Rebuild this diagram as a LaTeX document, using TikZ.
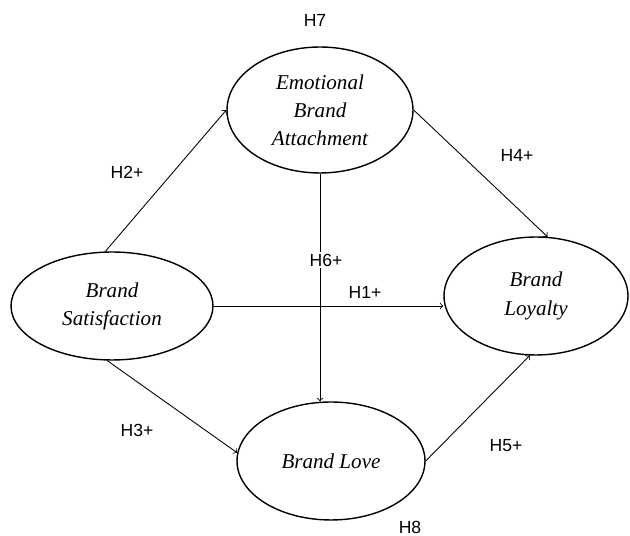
\documentclass[tikz,border=0pt]{standalone}
\usepackage{fontspec}
\setmainfont{Liberation Serif}
\setsansfont{Liberation Sans}
\usetikzlibrary{shapes.geometric}

\begin{document}
\begin{tikzpicture}[x=0.02cm,y=-0.02cm,
        construct/.style={ellipse,draw,line width=0.8pt,inner sep=0pt,align=center,
            font=\itshape\fontsize{12}{16}\selectfont},
        path/.style={->,line width=0.5pt},
        hyp/.style={fill=white,inner sep=1pt,font=\sffamily\fontsize{10}{12}\selectfont}]
        \useasboundingbox (0,0) rectangle (630,536);

        \node[construct,minimum width=3.72cm,minimum height=2.52cm] (eba) at (320,110) {Emotional\\Brand\\Attachment};
        \node[construct,minimum width=4.04cm,minimum height=2.16cm] (sat) at (112,306) {Brand\\Satisfaction};
        \node[construct,minimum width=3.68cm,minimum height=2.36cm] (loy) at (536,296) {Brand\\Loyalty};
        \node[construct,minimum width=3.76cm,minimum height=2.36cm] (love) at (331,461) {Brand Love};

        \foreach \a/\b in {sat.97/eba.west,eba.east/loy.79,sat.265/love.175,love.east/loy.264}{
            \draw[path] (\a)--(\b);
        }
        \draw[path] (eba.south)--(eba.south |- love.north);
        \draw[path] (sat.east)--(sat.east -| loy.west);

        \node[hyp] (h7) at (315,20) {H7};
        \node[hyp] (h2) at (127,172) {H2+};
        \node[hyp] (h4) at (517,155) {H4+};
        \node[hyp] (h6) at (326,260) {H6+};
        \node[hyp] (h1) at (365,292) {H1+};
        \node[hyp] (h3) at (137,430) {H3+};
        \node[hyp] (h5) at (506,446) {H5+};
        \node[hyp] (h8) at (410,527) {H8};
\end{tikzpicture}
\end{document}
